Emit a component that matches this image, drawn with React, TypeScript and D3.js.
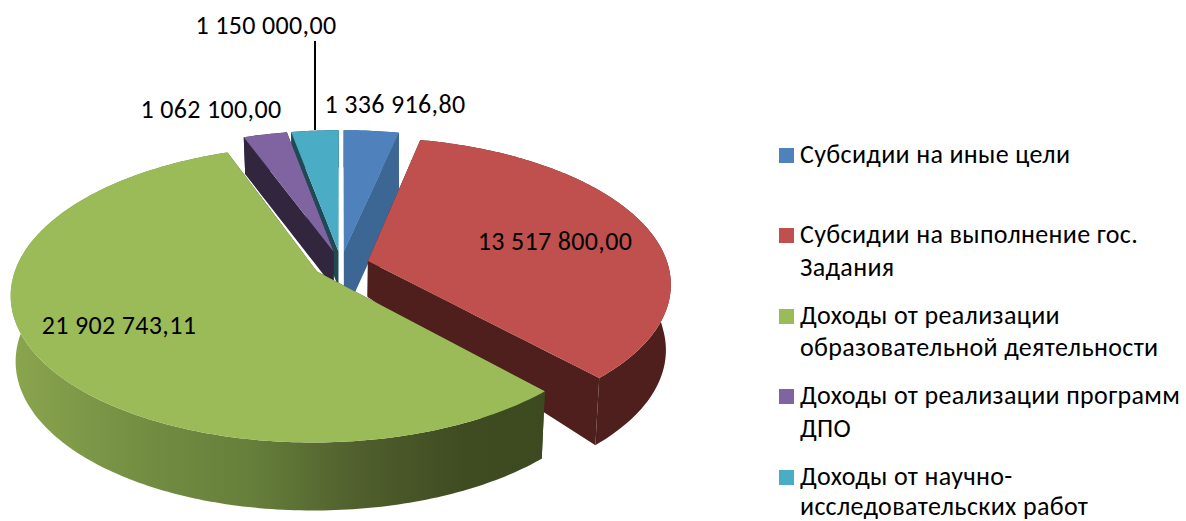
import { useEffect, useRef } from "react"
import * as d3 from "d3"

const values = [1336916.8, 13517800, 21902743.11, 1062100, 1150000]
const topColors = ["#4F81BD", "#C0504D", "#9BBB59", "#8064A2", "#4BACC6"]
const wallColors = ["#3C6794", "#4F1F1E", "#3D4A20", "#32263F", "#1E4A55"]
const legendLines = [
  ["Субсидии на иные цели"],
  ["Субсидии на выполнение гос.", "Задания"],
  ["Доходы от реализации", "образовательной деятельности"],
  ["Доходы от реализации программ", "ДПО"],
  ["Доходы от научно-", "исследовательских работ"],
]
const legendBaselines = [[163], [243, 276], [324, 356], [404, 437], [485, 515]]
const labelAt = [[395, 113], [555, 250], [119, 334], [211, 118], [266, 34]]
const drawOrder = [4, 3, 0, 1, 2]

const FONT = "Carlito, Calibri, Lato, 'Open Sans', sans-serif"
const cx = 341, cy = 264.5, R = 300, K = 143, e = 0.15, explode = 28

const fmt = d3.formatLocale({ decimal: ",", thousands: " ", grouping: [3], currency: ["", ""] }).format(",.2f")

// ground-plane point -> screen, with a fake perspective
function project(u: number, v: number, bottom: boolean, rho: number) {
  const p = 1 / (1 + (e * v) / R)
  let x = cx + u * p
  let y = cy - (K / R) * v * p
  if (bottom) {
    // the wall is shallow at the back and at the hub, deep at the sides and front
    const c = Math.max(-1, Math.min(1, v / (R * Math.max(rho, 0.001))))
    y += 36 + rho * (c > 0 ? 29 - 28 * c : 29 - 3 * c)
    x -= (x - cx) * 0.015
  }
  return [x, y] as [number, number]
}

export default function App() {
  const ref = useRef<SVGSVGElement>(null)
  useEffect(() => {
    if (!ref.current) return
    const svg = d3.select(ref.current)
    svg.selectAll("*").remove()

    const defs = svg.append("defs")
    const grad = defs.append("linearGradient").attr("id", "greenRim").attr("gradientUnits", "userSpaceOnUse")
      .attr("x1", 10).attr("x2", 545).attr("y1", 0).attr("y2", 0)
    const stops: [number, string][] = [[0, "#8BA64E"], [0.05, "#86A04C"], [0.25, "#728E42"], [0.45, "#667F3B"], [0.65, "#505F2D"], [0.85, "#3F4B21"], [1, "#3D4A20"]]
    stops.forEach(([o, c]) => grad.append("stop").attr("offset", o).attr("stop-color", c))

    const arcs = d3.pie<number>().sort(null)(values)
    const line = d3.line()

    const chart = svg.append("g")
    drawOrder.forEach(i => {
      const a = arcs[i]
      const mid = (a.startAngle + a.endAngle) / 2
      const ox = explode * Math.sin(mid), oy = explode * Math.cos(mid)
      const at = (ang: number, r: number, bottom: boolean) =>
        project(ox + r * Math.sin(ang), oy + r * Math.cos(ang), bottom, r / R)
      const n = Math.max(8, Math.ceil((a.endAngle - a.startAngle) * 60))
      const angs = d3.range(n + 1).map(k => a.startAngle + ((a.endAngle - a.startAngle) * k) / n)
      const g = chart.append("g")

      const steps = d3.range(11).map(k => k / 10)
      const wall = (ang: number) => [
        ...steps.map(t => at(ang, R * t, false)),
        ...steps.slice().reverse().map(t => at(ang, R * t, true)),
      ]
      g.append("path").attr("d", line(wall(a.startAngle)) + "Z").attr("fill", wallColors[i])
      g.append("path").attr("d", line(wall(a.endAngle)) + "Z").attr("fill", wallColors[i])

      // the blue slice's cut face reads deeper than the model gives
      if (i === 0) {
        const face = [
          ...steps.map(t => at(a.endAngle, R * t, false)),
          ...steps.slice().reverse().map(t => {
            const [x, y] = at(a.endAngle, R * t, true)
            return [x + 11 - 10 * t, y + 5 + 21 * t] as [number, number]
          }),
          at(a.endAngle, 0, true),
        ]
        g.append("path").attr("d", line(face) + "Z").attr("fill", wallColors[i])
      }

      // rim as a strip of quads so the silhouette stays filled round the sides
      const quads = d3.pairs(angs).map(([s, t]) =>
        line([at(s, R, false), at(t, R, false), at(t, R, true), at(s, R, true)]) + "Z").join("")
      g.append("path").attr("d", quads).attr("fill", i === 2 ? "url(#greenRim)" : wallColors[i])

      const top = [at(a.startAngle, 0, false), ...angs.map(t => at(t, R, false))]
      g.append("path").attr("d", line(top) + "Z").attr("fill", topColors[i])
    })

    // leader line for the label that sits outside
    svg.append("line").attr("x1", 315).attr("x2", 315).attr("y1", 41).attr("y2", 130).attr("stroke", "#000").attr("stroke-width", 2)

    svg.selectAll("text.val").data(arcs).join("text").attr("class", "val")
      .attr("x", (_, i) => labelAt[i][0]).attr("y", (_, i) => labelAt[i][1])
      .attr("text-anchor", "middle").style("font-family", FONT).style("font-size", "26px").style("letter-spacing", "0.33px").style("fill", "#000")
      .text(d => fmt(d.value))

    const legend = svg.append("g")
    legendLines.forEach((lines, i) => {
      legend.append("rect").attr("x", 779).attr("y", legendBaselines[i][0] - 15).attr("width", 15).attr("height", 15).attr("fill", topColors[i])
      lines.forEach((t, j) => {
        legend.append("text").attr("x", 800).attr("y", legendBaselines[i][j])
          .style("font-family", FONT).style("font-size", "26px").style("letter-spacing", "0.35px").style("fill", "#000").text(t)
      })
    })
  }, [])
  return <svg ref={ref} width={1186} height={521} style={{ position: "fixed", left: 0, top: 0, display: "block", background: "#fff" }} />
}
